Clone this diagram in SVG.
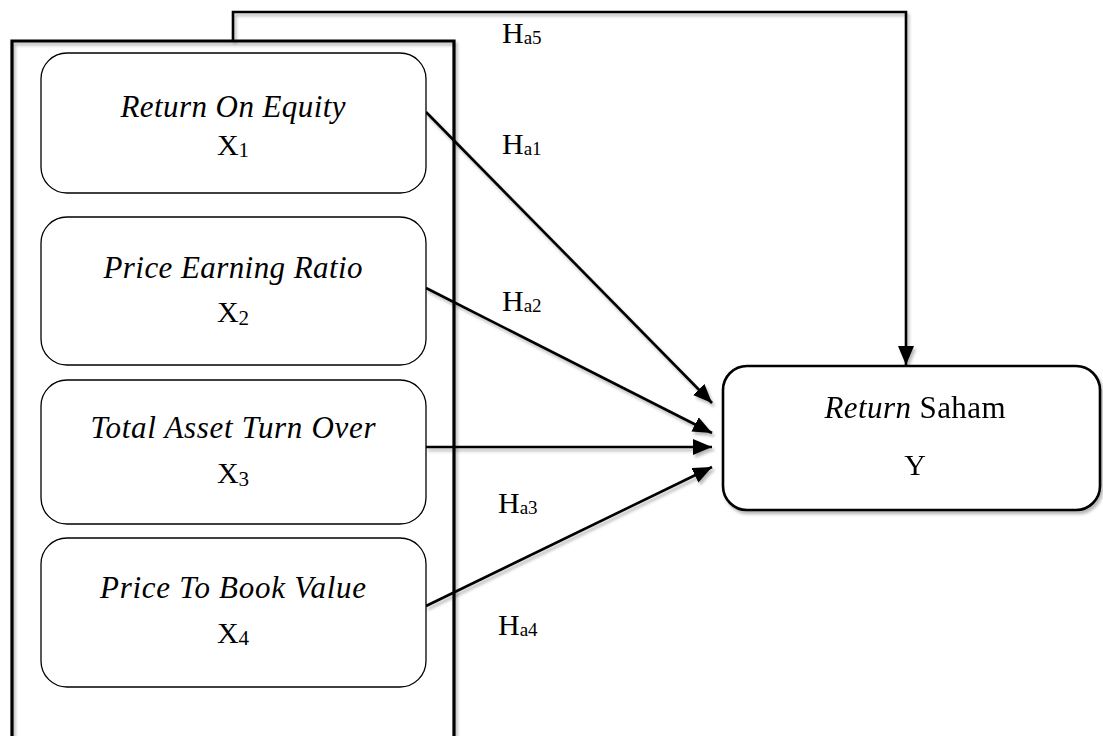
<svg xmlns="http://www.w3.org/2000/svg" width="1103" height="736" viewBox="0 0 1103 736">
  <style>
    .frame { fill: none; stroke: #000; stroke-width: 3.2; }
    .var { fill: #fff; stroke: #000; stroke-width: 1.3; }
    .target { fill: #fff; stroke: #000; stroke-width: 2.6; }
    .link { fill: none; stroke: #000; stroke-width: 2.6; }
    .lbl { font-family: "Liberation Serif", "Times New Roman", serif; font-size: 31px; fill: #000; }
    .sym { font-size: 30px; }
    .it { font-style: italic; }
    .sub { font-size: 21px; }
    .hsub { font-size: 19px; }
  </style>
  <defs>
    <filter id="shade" x="-5%" y="-5%" width="110%" height="110%">
      <feDropShadow dx="2" dy="3" stdDeviation="1.8" flood-color="#000" flood-opacity="0.28"/>
    </filter>
    <marker id="arrow" markerUnits="userSpaceOnUse" markerWidth="22" markerHeight="18" refX="19" refY="8" orient="auto">
      <path d="M0,0 L19,8 L0,16 Z" fill="#000"/>
    </marker>
  </defs>

  <rect width="1103" height="736" fill="#fff"/>

  <!-- enclosing frame around the independent variables -->
  <g id="frame" filter="url(#shade)">
    <path class="frame" d="M12,745 L12,41 L454,41 L454,745"/>
  </g>

  <!-- connectors -->
  <g id="connectors" filter="url(#shade)">
    <path class="link" d="M233,41 L233,12 L906,12 L906,365" marker-end="url(#arrow)"/>
    <line class="link" x1="426" y1="112" x2="712" y2="403" marker-end="url(#arrow)"/>
    <line class="link" x1="426" y1="288" x2="712" y2="433" marker-end="url(#arrow)"/>
    <line class="link" x1="426" y1="447" x2="712" y2="447" marker-end="url(#arrow)"/>
    <line class="link" x1="426" y1="606" x2="712" y2="467" marker-end="url(#arrow)"/>
  </g>

  <!-- hypothesis labels -->
  <g id="labels">
    <text class="lbl sym" x="502" y="43">H<tspan class="hsub" dy="1">a5</tspan></text>
    <text class="lbl sym" x="502" y="154">H<tspan class="hsub" dy="1">a1</tspan></text>
    <text class="lbl sym" x="502" y="311">H<tspan class="hsub" dy="1">a2</tspan></text>
    <text class="lbl sym" x="498" y="513">H<tspan class="hsub" dy="1">a3</tspan></text>
    <text class="lbl sym" x="498" y="635">H<tspan class="hsub" dy="1">a4</tspan></text>
  </g>

  <g id="x1">
    <rect class="var" x="41" y="53" width="385" height="140" rx="26"/>
    <text class="lbl it" x="233" y="117" text-anchor="middle" textLength="225">Return On Equity</text>
    <text class="lbl sym" x="233" y="155" text-anchor="middle">X<tspan class="sub" dy="2">1</tspan></text>
  </g>

  <g id="x2">
    <rect class="var" x="41" y="217" width="385" height="148" rx="26"/>
    <text class="lbl it" x="233" y="278" text-anchor="middle" textLength="259">Price Earning Ratio</text>
    <text class="lbl sym" x="233" y="322" text-anchor="middle">X<tspan class="sub" dy="3">2</tspan></text>
  </g>

  <g id="x3">
    <rect class="var" x="41" y="380" width="385" height="144" rx="26"/>
    <text class="lbl it" x="233" y="438" text-anchor="middle" textLength="285">Total Asset Turn Over</text>
    <text class="lbl sym" x="233" y="483" text-anchor="middle">X<tspan class="sub" dy="3">3</tspan></text>
  </g>

  <g id="x4">
    <rect class="var" x="41" y="538" width="385" height="149" rx="26"/>
    <text class="lbl it" x="233" y="598" text-anchor="middle" textLength="266">Price To Book Value</text>
    <text class="lbl sym" x="233" y="643" text-anchor="middle">X<tspan class="sub" dy="2">4</tspan></text>
  </g>

  <g id="y" filter="url(#shade)">
    <rect class="target" x="723" y="366" width="377" height="144" rx="24"/>
    <text class="lbl" x="915" y="418" text-anchor="middle" textLength="181"><tspan class="it">Return</tspan> Saham</text>
    <text class="lbl sym" x="915" y="475" text-anchor="middle">Y</text>
  </g>
</svg>
